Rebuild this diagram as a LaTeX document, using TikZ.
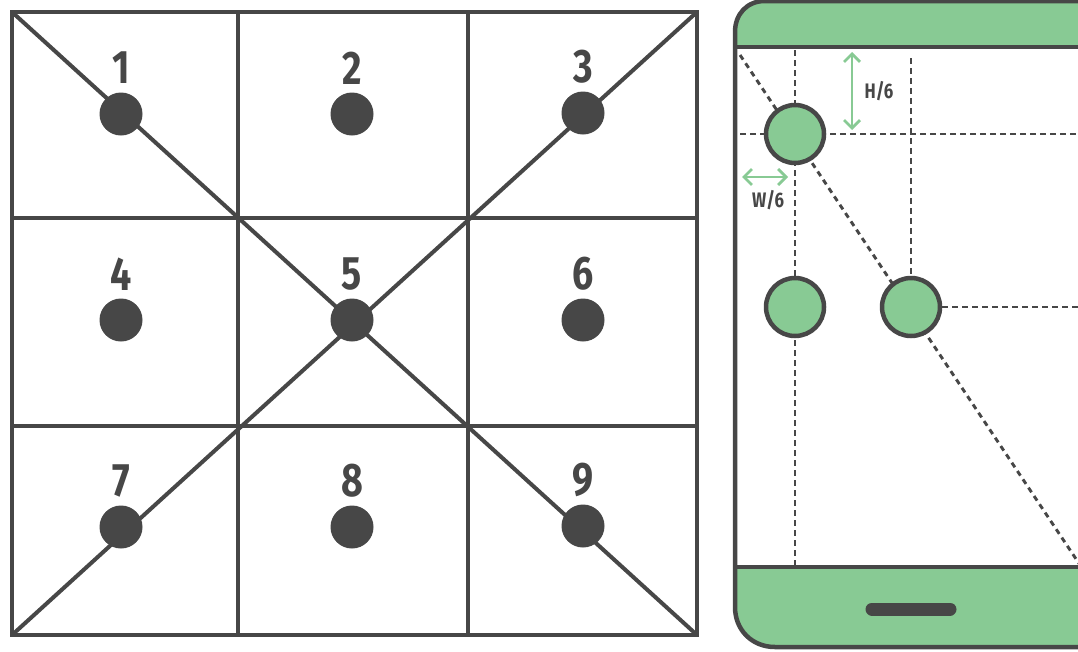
\documentclass[tikz,border=0pt]{standalone}
\usepackage{fontspec}
\newfontfamily\lblfont[FakeStretch=0.8]{Fira Sans}
\usetikzlibrary{arrows.meta}
\definecolor{dark}{HTML}{474747}
\definecolor{phgreen}{HTML}{88CA94}
\tikzset{
  gridline/.style={draw=dark, line width=4pt},
  dot/.style={circle, fill=dark, minimum size=43pt, inner sep=0pt},
  num/.style={text=dark, font=\lblfont\bfseries\fontsize{47}{47}\selectfont, inner sep=0pt},
  phoneline/.style={draw=dark, line width=4.5pt},
  dsh/.style={draw=dark, line width=2.9pt, dash pattern=on 5.5pt off 4.5pt},
  gcircle/.style={circle, draw=dark, fill=phgreen, line width=4.5pt, minimum size=58pt, inner sep=0pt},
  dimarrow/.style={draw=phgreen, line width=2.8pt, {Straight Barb[length=8pt,width=16pt]}-{Straight Barb[length=8pt,width=16pt]}},
  dimlabel/.style={text=dark, font=\lblfont\bfseries\fontsize{21}{21}\selectfont, inner sep=0pt}
}
\begin{document}
\begin{tikzpicture}[x=1pt,y=-1pt]
\useasboundingbox (0,0) rectangle (1078,651);
\clip (0,0) rectangle (1078,651);
% ---------- grid ----------
\coordinate (tl) at (12,12);
\coordinate (tr) at (697,12);
\coordinate (bl) at (12,635);
\coordinate (br) at (697,635);
\coordinate (v1t) at (238,12);  \coordinate (v1b) at (238,635);
\coordinate (v2t) at (468,12);  \coordinate (v2b) at (468,635);
\coordinate (h1l) at (12,218);  \coordinate (h1r) at (697,218);
\coordinate (h2l) at (12,426);  \coordinate (h2r) at (697,426);
\draw[gridline, line join=miter] (tl) rectangle (br);
\draw[gridline] (v1t) -- (v1b);
\draw[gridline] (v2t) -- (v2b);
\draw[gridline] (h1l) -- (h1r);
\draw[gridline] (h2l) -- (h2r);
\draw[gridline] (tl) -- (br);
\draw[gridline] (tr) -- (bl);
% dots and numbers
\foreach \n/\x/\y in {1/121/114, 2/352/114, 3/583/113,
                      4/121/320, 5/352/320, 6/583/320,
                      7/121/527, 8/352/527, 9/583/526}{
  \node[dot] (d\n) at (\x,\y) {};
  \node[num] (n\n) at (\x,\y-46) {\n};
}
% ---------- phone ----------
\fill[phgreen] (735,47) -- (735,32) .. controls (735,14) and (747,1) .. (765,1) -- (1100,1) -- (1100,47) -- cycle;
\fill[phgreen] (735,567) -- (735,607) .. controls (735,630) and (752,647) .. (775,647) -- (1100,647) -- (1100,567) -- cycle;
\coordinate (p1) at (1100,1);
\coordinate (p2) at (1100,647);
\draw[phoneline] (p1) -- (765,1) .. controls (747,1) and (735,14) .. (735,32) -- (735,607) .. controls (735,630) and (752,647) .. (775,647) -- (p2);
\coordinate (st) at (735,47);  \coordinate (str) at (1100,47);
\coordinate (sb) at (735,567); \coordinate (sbr) at (1100,567);
\draw[phoneline] (st) -- (str);
\draw[phoneline] (sb) -- (sbr);
\coordinate (hb1) at (872,609);
\coordinate (hb2) at (950,609);
\draw[draw=dark, line width=13pt, line cap=round] (hb1) -- (hb2);
% dashed guides
\coordinate (g1t) at (795,50);  \coordinate (g1b) at (795,565);
\coordinate (g2t) at (911,58);
\coordinate (g3l) at (740,134); \coordinate (g3r) at (1080,134);
\coordinate (g4r) at (1080,307);
\coordinate (dg1) at (740,55);  \coordinate (dg2) at (1080,565);
\draw[dsh] (g1t) -- (g1b);
\draw[dsh] (dg1) -- (dg2);
\draw[dsh] (g3l) -- (g3r);
\node[gcircle] (c1) at (795,134) {};
\node[gcircle] (c2) at (795,307) {};
\node[gcircle] (c3) at (911,307) {};
\draw[dsh] (g2t) -- (c3.north);
\draw[dsh] (c3.east) -- (g4r);
% dimension arrows
\coordinate (ha) at (852,52);  \coordinate (hb) at (852,130);
\coordinate (wa) at (742,177); \coordinate (wb) at (788,177);
\draw[dimarrow] (ha) -- (hb);
\draw[dimarrow] (wa) -- (wb);
\node[dimlabel] (hl) at (879,91) {H/6};
\node[dimlabel] (wl) at (768,200) {W/6};
\end{tikzpicture}
\end{document}
